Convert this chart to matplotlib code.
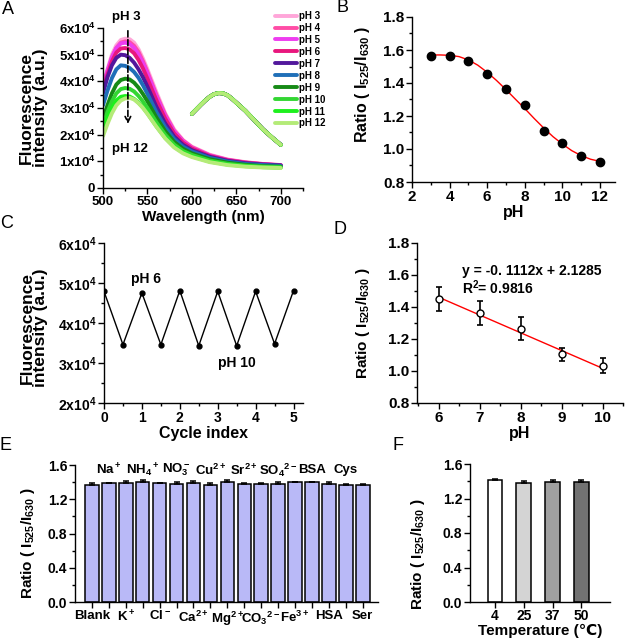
# pH response figure (A-F panels)

import matplotlib
matplotlib.use('Agg')
import matplotlib.pyplot as plt
from matplotlib.ticker import MultipleLocator

plt.rcParams['font.family'] = ['Liberation Sans', 'DejaVu Sans']
plt.rcParams['font.weight'] = 'bold'
plt.rcParams['axes.labelweight'] = 'bold'
plt.rcParams['mathtext.fontset'] = 'custom'
plt.rcParams['mathtext.rm'] = 'Liberation Sans:bold'
plt.rcParams['mathtext.it'] = 'Liberation Sans:bold'
plt.rcParams['mathtext.bf'] = 'Liberation Sans:bold'
plt.rcParams['mathtext.default'] = 'rm'
plt.rcParams['axes.linewidth'] = 1.0

# ---- data ----
# A: emission spectra (x1e4 a.u.)
wavelength = [500, 505, 510, 515, 520, 525, 530, 535, 540, 545, 550,
              560, 570, 580, 590, 600, 620, 640, 660, 680, 700]
spec_ph3 = [3.85, 4.45, 5.0, 5.35, 5.55, 5.6, 5.58, 5.45, 5.2, 4.85, 4.45,
            3.6, 2.8, 2.2, 1.8, 1.55, 1.25, 1.07, 0.97, 0.9, 0.86]
spec_ph4 = [3.75, 4.35, 4.9, 5.25, 5.45, 5.5, 5.47, 5.33, 5.1, 4.75, 4.35,
            3.5, 2.75, 2.15, 1.78, 1.53, 1.23, 1.06, 0.96, 0.9, 0.86]
spec_ph5 = [3.8, 4.4, 4.9, 5.25, 5.42, 5.45, 5.4, 5.25, 5.0, 4.68, 4.3,
            3.45, 2.7, 2.12, 1.75, 1.5, 1.22, 1.05, 0.95, 0.89, 0.85]
spec_ph6 = [3.65, 4.25, 4.75, 5.08, 5.23, 5.25, 5.2, 5.05, 4.8, 4.48, 4.1,
            3.3, 2.6, 2.05, 1.7, 1.48, 1.2, 1.04, 0.95, 0.89, 0.85]
spec_ph7 = [3.55, 4.15, 4.6, 4.88, 5.0, 4.98, 4.88, 4.7, 4.45, 4.15, 3.8,
            3.05, 2.42, 1.93, 1.62, 1.42, 1.17, 1.02, 0.93, 0.88, 0.85]
spec_ph8 = [3.1, 3.65, 4.12, 4.45, 4.6, 4.58, 4.5, 4.35, 4.13, 3.85, 3.53,
            2.85, 2.28, 1.84, 1.55, 1.37, 1.13, 0.99, 0.9, 0.86, 0.83]
spec_ph9 = [2.6, 3.1, 3.55, 3.88, 4.05, 4.1, 4.07, 3.95, 3.76, 3.52, 3.25,
            2.65, 2.13, 1.73, 1.47, 1.3, 1.08, 0.95, 0.87, 0.82, 0.8]
spec_ph10 = [2.35, 2.85, 3.25, 3.55, 3.71, 3.75, 3.72, 3.62, 3.45, 3.24, 3.0,
             2.47, 2.0, 1.63, 1.39, 1.24, 1.03, 0.91, 0.84, 0.8, 0.78]
spec_ph11 = [2.2, 2.65, 3.02, 3.28, 3.42, 3.45, 3.43, 3.34, 3.2, 3.02, 2.8,
             2.32, 1.88, 1.55, 1.33, 1.19, 0.99, 0.88, 0.82, 0.78, 0.76]
spec_ph12 = [1.95, 2.4, 2.8, 3.1, 3.28, 3.36, 3.38, 3.32, 3.18, 3.0, 2.78,
             2.3, 1.86, 1.52, 1.3, 1.16, 0.97, 0.86, 0.8, 0.77, 0.75]
# second emission band (same for every pH)
red_wl = [600, 605, 610, 615, 620, 625, 630, 635, 640, 645, 650,
          660, 670, 680, 690, 700]
red_int = [2.78, 2.95, 3.12, 3.28, 3.42, 3.52, 3.56, 3.55, 3.48, 3.35, 3.2,
           2.9, 2.55, 2.2, 1.9, 1.62]
ph_labels = ['pH 3', 'pH 4', 'pH 5', 'pH 6', 'pH 7', 'pH 8', 'pH 9',
             'pH 10', 'pH 11', 'pH 12']
ph_colors = ['#ffa6d9', '#ff4da6', '#ee3cf0', '#e8177d', '#52189c',
             '#1f6fb8', '#168a16', '#33d633', '#1ef01e', '#b4eb78']

# B: ratio vs pH with sigmoidal fit
ph_b = [3, 4, 5, 6, 7, 8, 9, 10, 11, 12]
ratio_b = [1.562, 1.563, 1.533, 1.455, 1.365, 1.268, 1.108, 1.038, 0.96, 0.924]
fit_ph = [3, 3.5, 4, 4.5, 5, 5.5, 6, 6.5, 7, 7.5, 8, 8.5, 9, 9.5,
          10, 10.5, 11, 11.5, 12]
fit_ratio = [1.570, 1.570, 1.568, 1.560, 1.540, 1.508, 1.465, 1.415, 1.360,
             1.302, 1.245, 1.185, 1.128, 1.075, 1.030, 0.990, 0.960, 0.938, 0.925]

# C: reversibility pH 6 / pH 10
cycle = [0, 0.5, 1, 1.5, 2, 2.5, 3, 3.5, 4, 4.5, 5]
cycle_int = [4.79, 3.46, 4.75, 3.46, 4.81, 3.43, 4.79, 3.43, 4.79, 3.48, 4.81]

# D: linear range
ph_d = [6, 7, 8, 9, 10]
ratio_d = [1.452, 1.360, 1.265, 1.105, 1.033]
err_d = [0.075, 0.075, 0.07, 0.04, 0.048]
fit_d_x = [6, 10]
fit_d_y = [1.461, 1.017]

# E: selectivity
ions = ['Blank', 'Na$^+$', 'K$^+$', 'NH$_4$$^+$', 'Cl$^-$', 'NO$_3^-$',
        'Ca$^{2+}$', 'Cu$^{2+}$', 'Mg$^{2+}$', 'Sr$^{2+}$', 'CO$_3$$^{2-}$',
        'SO$_4$$^{2-}$', 'Fe$^{3+}$', 'BSA', 'HSA', 'Cys', 'Ser']
ratio_e = [1.37, 1.385, 1.385, 1.40, 1.385, 1.383, 1.387, 1.368, 1.40, 1.38,
           1.377, 1.377, 1.397, 1.397, 1.375, 1.372, 1.362]
err_e = [0.015, 0.01, 0.03, 0.03, 0.01, 0.015, 0.03, 0.025, 0.03, 0.015,
         0.015, 0.02, 0.01, 0.01, 0.03, 0.01, 0.02]

# F: temperature
temps = ['4', '25', '37', '50']
ratio_f = [1.41, 1.385, 1.395, 1.39]
err_f = [0.012, 0.022, 0.025, 0.03]
temp_colors = ['#ffffff', '#d4d4d4', '#a0a0a0', '#727272']

W, H = 625, 639
fig = plt.figure(figsize=(W / 100, H / 100), dpi=100)


def box(left, top, right, bottom):
    return [left / W, 1 - bottom / H, (right - left) / W, (bottom - top) / H]


def style(ax, size):
    for s in ['top', 'right']:
        ax.spines[s].set_visible(False)
    ax.tick_params(which='major', direction='out', length=4, width=1,
                   labelsize=size, pad=1.5)
    ax.tick_params(which='minor', direction='out', length=2, width=1)


def letter(x, y, s):
    fig.text(x / W, 1 - y / H, s, fontsize=13, fontweight='normal',
             ha='center', va='center')


ratio_label = 'Ratio ( I$_{525}$/I$_{630}$ )'

# ---- A ----
ax = fig.add_axes(box(103, 28, 303, 188))
style(ax, 9.5)
series = [spec_ph3, spec_ph4, spec_ph5, spec_ph6, spec_ph7, spec_ph8,
          spec_ph9, spec_ph10, spec_ph11, spec_ph12]
for vals, lab, c in zip(series, ph_labels, ph_colors):
    ax.plot(wavelength, [v * 1e4 for v in vals], color=c, lw=2.8, label=lab,
            solid_capstyle='round')
for c in ph_colors:
    ax.plot(red_wl, [v * 1e4 for v in red_int], color=c, lw=2.8,
            solid_capstyle='round')
ax.set_xlim(500, 725)
ax.set_ylim(0, 6e4)
ax.xaxis.set_major_locator(MultipleLocator(50))
ax.xaxis.set_minor_locator(MultipleLocator(25))
ax.set_yticks([0, 1e4, 2e4, 3e4, 4e4, 5e4, 6e4])
ax.set_yticklabels(['0'] + ['%dx10$^4$' % i for i in range(1, 7)])
ax.yaxis.set_minor_locator(MultipleLocator(5e3))
ax.set_xlabel('Wavelength (nm)', fontsize=11, labelpad=2)
ax.set_ylabel('Fluorescence\nintensity (a.u.)', fontsize=12.5, linespacing=0.9)
ax.yaxis.set_label_coords(-0.275, 0.5)
ax.annotate('', xy=(528, 2.3e4), xytext=(528, 6.0e4),
            arrowprops=dict(arrowstyle='->', linestyle='--', lw=1.2,
                            color='black'))
ax.text(510, 6.41e4, 'pH 3', fontsize=9.5, va='center', clip_on=False)
ax.text(510, 1.46e4, 'pH 12', fontsize=9.5, va='center')
leg = ax.legend(loc='upper left', bbox_to_anchor=(275 / W, 1 - 11 / H),
                bbox_transform=fig.transFigure, frameon=False, fontsize=7,
                handlelength=2.3, handletextpad=0.2, labelspacing=0.2,
                borderpad=0, borderaxespad=0)
for t in leg.get_texts():
    t.set_fontweight('bold')
letter(8, 9, 'A')

# ---- B ----
ax = fig.add_axes(box(412, 17, 615, 182))
style(ax, 11)
ax.plot(fit_ph, fit_ratio, color='red', lw=1)
ax.plot(ph_b, ratio_b, 'o', color='black', ms=6)
ax.set_xlim(2, 12.8)
ax.set_ylim(0.8, 1.8)
ax.xaxis.set_major_locator(MultipleLocator(2))
ax.xaxis.set_minor_locator(MultipleLocator(1))
ax.yaxis.set_major_locator(MultipleLocator(0.2))
ax.yaxis.set_minor_locator(MultipleLocator(0.1))
ax.set_xlabel('pH', fontsize=11.5, labelpad=1)
ax.set_ylabel(ratio_label, fontsize=11.5)
ax.yaxis.set_label_coords(-0.197, 0.59)
letter(343, 8, 'B')

# ---- C ----
ax = fig.add_axes(box(104, 243, 303, 403))
style(ax, 10)
ax.plot(cycle, [v * 1e4 for v in cycle_int], '-o', color='black', lw=1, ms=3.5)
ax.set_xlim(0, 5.25)
ax.set_ylim(2e4, 6e4)
ax.xaxis.set_major_locator(MultipleLocator(1))
ax.xaxis.set_minor_locator(MultipleLocator(0.5))
ax.set_yticks([2e4, 3e4, 4e4, 5e4, 6e4])
ax.set_yticklabels(['%dx10$^4$' % i for i in range(2, 7)])
ax.yaxis.set_minor_locator(MultipleLocator(5e3))
ax.set_xlabel('Cycle index', fontsize=11.5, labelpad=1)
ax.set_ylabel('Fluorescence\nintensity (a.u.)', fontsize=12.5, linespacing=0.9)
ax.yaxis.set_label_coords(-0.28, 0.47)
ax.text(0.7, 5.1e4, 'pH 6', fontsize=10, va='center')
ax.text(3.0, 3.0e4, 'pH 10', fontsize=10, va='center')
letter(7, 224, 'C')

# ---- D ----
ax = fig.add_axes(box(417, 243, 623, 403))
style(ax, 11)
ax.plot(fit_d_x, fit_d_y, color='red', lw=1)
ax.errorbar(ph_d, ratio_d, yerr=err_d, fmt='o', mfc='white', mec='black',
            ms=5, ecolor='black', elinewidth=1.2, capsize=2.5, capthick=1.2)
ax.set_xlim(5.47, 10.5)
ax.set_ylim(0.8, 1.8)
ax.xaxis.set_major_locator(MultipleLocator(1))
ax.xaxis.set_minor_locator(MultipleLocator(0.5))
ax.yaxis.set_major_locator(MultipleLocator(0.2))
ax.yaxis.set_minor_locator(MultipleLocator(0.1))
ax.set_xlabel('pH', fontsize=11.5, labelpad=1)
ax.set_ylabel(ratio_label, fontsize=11)
ax.yaxis.set_label_coords(-0.218, 0.5)
ax.text(0.22, 0.825, 'y = -0. 1112x + 2.1285', transform=ax.transAxes,
        fontsize=10, va='center')
ax.text(0.22, 0.72, 'R$^2$= 0.9816', transform=ax.transAxes,
        fontsize=10, va='center')
letter(340, 229, 'D')

# ---- E ----
ax = fig.add_axes(box(75, 465, 378, 602))
style(ax, 9.5)
xe = list(range(len(ions)))
ax.bar(xe, ratio_e, width=0.8, color='#b9b9f7', edgecolor='black', lw=1.1,
       yerr=[[0] * len(err_e), err_e], capsize=2.5,
       error_kw=dict(elinewidth=1.1, capthick=1.1))
ax.set_xlim(-1, 16.9)
ax.set_ylim(0, 1.6)
ax.yaxis.set_major_locator(MultipleLocator(0.4))
ax.yaxis.set_minor_locator(MultipleLocator(0.2))
ax.tick_params(axis='y', labelsize=10)
ax.set_xticks(xe)
ax.set_xticklabels([lab if i % 2 == 0 else '' for i, lab in enumerate(ions)])
for i, lab in enumerate(ions):
    if i % 2 == 1:
        ax.text(i, 1.54, lab, fontsize=9.5, ha='center', va='center')
ax.set_ylabel(ratio_label, fontsize=11)
ax.yaxis.set_label_coords(-0.125, 0.43)
letter(6, 446, 'E')

# ---- F ----
ax = fig.add_axes(box(470, 464, 610, 602))
style(ax, 10)
ax.tick_params(axis='x', pad=1)
xf = list(range(len(temps)))
ax.bar(xf, ratio_f, width=0.52, color=temp_colors, edgecolor='black', lw=1.1,
       yerr=[[0] * len(err_f), err_f], capsize=2.5,
       error_kw=dict(elinewidth=1.1, capthick=1.1))
ax.set_xlim(-0.87, 4.0)
ax.set_ylim(0, 1.6)
ax.yaxis.set_major_locator(MultipleLocator(0.4))
ax.yaxis.set_minor_locator(MultipleLocator(0.2))
ax.set_xticks(xf)
ax.set_xticklabels(temps)
ax.set_xlabel('Temperature (℃)', fontsize=11, labelpad=0.5)
ax.set_ylabel(ratio_label, fontsize=11)
ax.yaxis.set_label_coords(-0.31, 0.35)
letter(398, 446, 'F')

fig.savefig('out.png', dpi=100)
